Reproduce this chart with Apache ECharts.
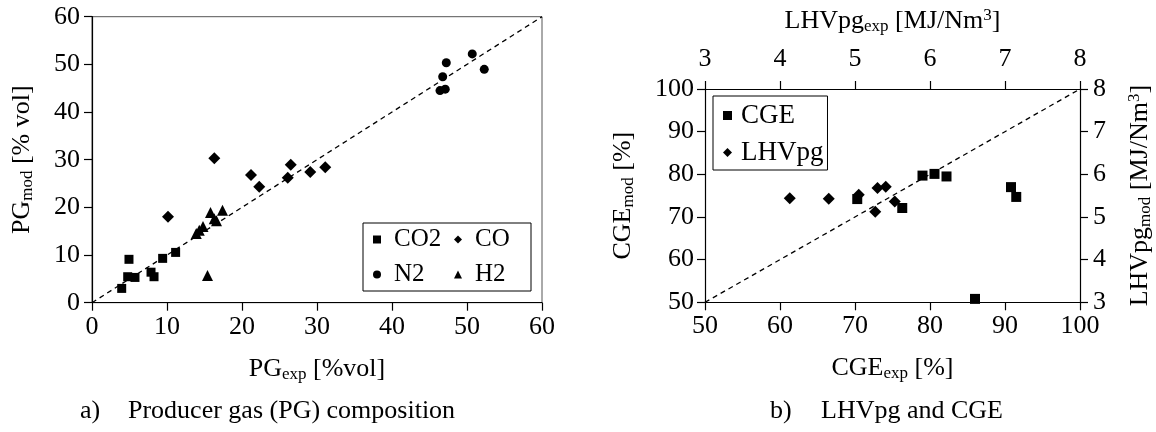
<!DOCTYPE html>
<html>
<head>
<meta charset="utf-8">
<script src="https://cdn.jsdelivr.net/npm/echarts@6/dist/echarts.min.js"></script>
<style>html,body{margin:0;padding:0;background:#fff}#c{width:1156px;height:432px}</style>
</head>
<body>
<div id="c"></div>
<script>
// ---------- data ----------
const pgTicks = [0, 10, 20, 30, 40, 50, 60];
const co2 = [[3.96,3.0],[4.93,9.1],[4.76,5.45],[5.73,5.3],[7.87,6.4],[8.27,5.45],[9.42,9.3],[11.15,10.55]];
const co  = [[10.13,18.05],[16.31,30.3],[21.2,26.8],[22.3,24.3],[26.1,26.2],[26.5,28.95],[29.1,27.4],[31.1,28.4]];
const n2  = [[47.24,50.35],[50.7,52.2],[52.3,48.95],[46.76,47.4],[46.4,44.5],[47.1,44.8]];
const h2  = [[13.9,14.5],[14.3,15.2],[14.8,16.0],[15.8,18.9],[16.3,17.6],[16.6,17.2],[17.4,19.4],[15.4,5.7]];
const pgParity = [[0,0],[60,60]];

const cge = [[70.3,74.2],[76.3,72.1],[79.0,79.7],[80.6,80.1],[82.2,79.5],[86.0,50.8],[90.8,77.0],[91.5,74.7]];
const lhv = [[4.13,5.44],[4.65,5.43],[5.05,5.52],[5.27,5.12],[5.30,5.68],[5.41,5.71],[5.53,5.36]];
const cgeParity = [[50,50],[100,100]];
const cgeRange = [50, 100];
const lhvRange = [3, 8];

const leftLegend = ['CO2', 'CO', 'N2', 'H2'];
const rightLegend = ['CGE', 'LHVpg'];
const captionA = ['a)', 'Producer gas (PG) composition'];
const captionB = ['b)', 'LHVpg and CGE'];

// ---------- style ----------
const FF = 'Liberation Serif';
const FS = 26;
const rich = {
  m: {fontSize: FS, fontFamily: FF, color: '#000', lineHeight: 28},
  s: {fontSize: 17, fontFamily: FF, color: '#000', lineHeight: 12, verticalAlign: 'bottom'},
  p: {fontSize: 17, fontFamily: FF, color: '#000', lineHeight: 20, verticalAlign: 'top'}
};
const lbl = (margin) => ({fontSize: FS, fontFamily: FF, color: '#000', margin: margin});
const axLine = {show: true, lineStyle: {color: '#000', width: 1.2}};
const tick = {show: true, inside: false, length: 8, lineStyle: {color: '#000', width: 1.2}};

function valAxis(o) {
  return Object.assign({
    type: 'value', axisLine: axLine, axisTick: tick, splitLine: {show: false},
    nameLocation: 'middle', nameTextStyle: {rich: rich}
  }, o);
}
const mk = {color: '#000', opacity: 1};

const option = {
  animation: false,
  backgroundColor: '#fff',
  grid: [
    {left: 92, right: 614, top: 16.7, bottom: 129.3, show: true, borderColor: '#555', borderWidth: 1},
    {left: 705, right: 76, top: 89, bottom: 129.7}
  ],
  xAxis: [
    valAxis({gridIndex: 0, min: pgTicks[0], max: pgTicks[pgTicks.length-1], interval: 10,
      axisLabel: lbl(11), name: '{m|PG}{s|exp}{m| [%vol]}', nameGap: 52}),
    valAxis({gridIndex: 1, min: cgeRange[0], max: cgeRange[1], interval: 10,
      axisLabel: lbl(11), name: '{m|CGE}{s|exp}{m| [%]}', nameGap: 52}),
    valAxis({gridIndex: 1, position: 'top', min: lhvRange[0], max: lhvRange[1], interval: 1,
      axisLabel: lbl(17), name: '{m|LHVpg}{s|exp}{m| [MJ/Nm}{p|3}{m|]}', nameGap: 54})
  ],
  yAxis: [
    valAxis({gridIndex: 0, min: 0, max: 60, interval: 10,
      axisLabel: lbl(12), name: '{m|PG}{s|mod}{m| [% vol]}', nameGap: 56}),
    valAxis({gridIndex: 1, min: cgeRange[0], max: cgeRange[1], interval: 10,
      axisLabel: lbl(11), name: '{m|CGE}{s|mod}{m| [%]}', nameGap: 68}),
    valAxis({gridIndex: 1, position: 'right', min: lhvRange[0], max: lhvRange[1], interval: 1,
      axisLabel: lbl(13), name: '{m|LHVpg}{s|mod}{m| [MJ/Nm}{p|3}{m|]}', nameGap: 46})
  ],
  legend: [
    {
      data: [{name: 'CO2', icon: 'rect'}, {name: 'CO', icon: 'diamond'}, {name: 'N2', icon: 'circle'}, {name: 'H2', icon: 'triangle'}],
      left: 363, top: 223, width: 162, orient: 'horizontal',
      itemWidth: 8, itemHeight: 8, itemGap: 10,
      padding: [4, 6, 4, 10], borderColor: '#000', borderWidth: 1,
      textStyle: {fontFamily: FF, fontSize: 25, color: '#000', width: 50, lineHeight: 24, padding: [0, 0, 0, 8]},
      selectedMode: false
    },
    {
      data: [{name: 'CGE', icon: 'rect'}, {name: 'LHVpg', icon: 'diamond'}],
      left: 713, top: 96, orient: 'vertical',
      itemWidth: 9, itemHeight: 9, itemGap: 10,
      padding: [6, 4, 4, 10], borderColor: '#000', borderWidth: 1,
      textStyle: {fontFamily: FF, fontSize: 27, color: '#000', lineHeight: 26, padding: [0, 0, 0, 4]},
      selectedMode: false
    }
  ],
  series: [
    {name: 'parityPG', type: 'line', xAxisIndex: 0, yAxisIndex: 0, data: pgParity, symbol: 'none',
      lineStyle: {color: '#000', width: 1.3, type: [5, 4]}, silent: true, z: 1},
    {name: 'CO2', type: 'scatter', xAxisIndex: 0, yAxisIndex: 0, data: co2, symbol: 'rect', symbolSize: 9, itemStyle: mk},
    {name: 'CO', type: 'scatter', xAxisIndex: 0, yAxisIndex: 0, data: co, symbol: 'diamond', symbolSize: 12, itemStyle: mk},
    {name: 'N2', type: 'scatter', xAxisIndex: 0, yAxisIndex: 0, data: n2, symbol: 'circle', symbolSize: 9, itemStyle: mk},
    {name: 'H2', type: 'scatter', xAxisIndex: 0, yAxisIndex: 0, data: h2, symbol: 'triangle', symbolSize: 11, itemStyle: mk},
    {name: 'parityCGE', type: 'line', xAxisIndex: 1, yAxisIndex: 1, data: cgeParity, symbol: 'none',
      lineStyle: {color: '#000', width: 1.3, type: [5, 4]}, silent: true, z: 1},
    {name: 'CGE', type: 'scatter', xAxisIndex: 1, yAxisIndex: 1, data: cge, symbol: 'rect', symbolSize: 10, itemStyle: mk},
    {name: 'LHVpg', type: 'scatter', xAxisIndex: 2, yAxisIndex: 2, data: lhv, symbol: 'diamond', symbolSize: 12, itemStyle: mk}
  ],
  graphic: [
    {type: 'text', left: 80, top: 398, style: {text: captionA[0], font: FS + 'px "' + FF + '"', fill: '#000'}},
    {type: 'text', left: 128, top: 398, style: {text: captionA[1], font: FS + 'px "' + FF + '"', fill: '#000'}},
    {type: 'text', left: 770, top: 398, style: {text: captionB[0], font: FS + 'px "' + FF + '"', fill: '#000'}},
    {type: 'text', left: 821, top: 398, style: {text: captionB[1], font: FS + 'px "' + FF + '"', fill: '#000'}}
  ]
};

const chart = echarts.init(document.getElementById('c'), null, {renderer: 'canvas'});
chart.setOption(option);
</script>
</body>
</html>
